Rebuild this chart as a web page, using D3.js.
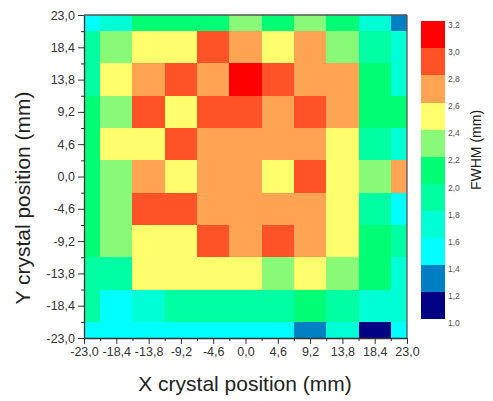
<!DOCTYPE html>
<html><head><meta charset="utf-8">
<script src="https://cdn.jsdelivr.net/npm/d3@7"></script>
<style>body{margin:0;background:#fff}svg{display:block;font-family:"Liberation Sans",Arial,sans-serif}</style>
</head><body><svg id="c" width="493" height="401"></svg>
<script>
// ---- data ----
const xPositions = [-23.0,-18.4,-13.8,-9.2,-4.6,0.0,4.6,9.2,13.8,18.4,23.0];
const yPositions = [23.0,18.4,13.8,9.2,4.6,0.0,-4.6,-9.2,-13.8,-18.4,-23.0];
const tickValues = [-23.0,-18.4,-13.8,-9.2,-4.6,0.0,4.6,9.2,13.8,18.4,23.0];
// FWHM (mm), one array per row, top (y=23) to bottom (y=-23), columns x=-23..23
const row_p230 = [1.5,1.7,2.1,2.1,2.1,2.3,2.1,2.3,2.1,1.7,1.3];
const row_p184 = [1.9,2.3,2.5,2.5,2.9,2.7,2.5,2.7,2.3,1.9,1.7];
const row_p138 = [1.9,2.5,2.7,2.9,2.7,3.1,2.9,2.7,2.7,2.1,1.7];
const row_p92  = [2.1,2.3,2.9,2.5,2.9,2.9,2.7,2.9,2.7,2.1,2.1];
const row_p46  = [2.1,2.5,2.5,2.9,2.7,2.7,2.7,2.7,2.5,1.9,1.7];
const row_0    = [2.1,2.3,2.7,2.5,2.7,2.7,2.5,2.9,2.5,2.3,2.7];
const row_m46  = [2.1,2.3,2.9,2.9,2.7,2.7,2.7,2.7,2.5,1.9,1.5];
const row_m92  = [2.1,2.3,2.5,2.5,2.9,2.7,2.9,2.7,2.5,2.1,1.9];
const row_m138 = [1.9,1.9,2.5,2.5,2.5,2.5,2.3,2.5,2.3,2.1,1.7];
const row_m184 = [1.9,1.5,1.7,1.9,1.9,1.9,1.9,2.1,1.9,1.7,1.7];
const row_m230 = [1.5,1.5,1.5,1.5,1.5,1.5,1.5,1.3,1.7,1.1,1.5];
const rows = [row_p230,row_p184,row_p138,row_p92,row_p46,row_0,row_m46,row_m92,row_m138,row_m184,row_m230];
const levels = [1.0,1.2,1.4,1.6,1.8,2.0,2.2,2.4,2.6,2.8,3.0,3.2];
const levelColors = ["#000082","#0080c4","#00ffff","#00ffd4","#00ffa2","#00ff74","#88fa78","#ffff6e","#ffa452","#ff5226","#ff0000"];

// ---- chart ----
const svg = d3.select("#c");
const L = 84, R = 407, T = 15, B = 338;
const x = d3.scaleLinear().domain([-23,23]).range([L,R]);
const y = d3.scaleLinear().domain([-23,23]).range([B,T]);
const color = d3.scaleThreshold().domain(levels.slice(1,-1)).range(levelColors);
const fmt = v => d3.format(".1f")(v).replace(".",",").replace("\u2212","-").replace("-0,0","0,0");
const half = 2.3;

svg.append("clipPath").attr("id","clip").append("rect")
  .attr("x",L).attr("y",T).attr("width",R-L).attr("height",B-T);

const cells = [];
rows.forEach((r,i)=>r.forEach((v,j)=>cells.push({x:xPositions[j],y:yPositions[i],v})));
svg.append("g").attr("clip-path","url(#clip)").selectAll("rect").data(cells).join("rect")
  .attr("x",d=>x(d.x-half)).attr("y",d=>y(d.y+half))
  .attr("width",d=>x(d.x+half)-x(d.x-half)+0.5)
  .attr("height",d=>y(d.y-half)-y(d.y+half)+0.5)
  .attr("fill",d=>color(d.v)).attr("shape-rendering","crispEdges");

const minor = tickValues.slice(0,-1).map(v=>v+2.3);
const axisColor = "#333";
function styleAxis(g){
  g.select(".domain").attr("stroke",axisColor).attr("stroke-width",1.3);
  g.selectAll(".tick line").attr("stroke",axisColor).attr("stroke-width",1);
  g.selectAll(".tick text").attr("fill","#333").style("font-size","12.5px");
}
// x axis
const gx = svg.append("g").attr("transform",`translate(0,${B})`)
  .call(d3.axisBottom(x).tickValues(tickValues).tickFormat(fmt).tickSize(6).tickSizeOuter(0).tickPadding(3));
styleAxis(gx);
svg.append("g").attr("transform",`translate(0,${B})`)
  .call(d3.axisBottom(x).tickValues(minor).tickFormat("").tickSize(3).tickSizeOuter(0))
  .call(g=>{g.select(".domain").remove();g.selectAll("line").attr("stroke",axisColor);});
// y axis
const gy = svg.append("g").attr("transform",`translate(${L},0)`)
  .call(d3.axisLeft(y).tickValues(tickValues).tickFormat(fmt).tickSize(6).tickSizeOuter(0).tickPadding(3));
styleAxis(gy);
svg.append("g").attr("transform",`translate(${L},0)`)
  .call(d3.axisLeft(y).tickValues(minor).tickFormat("").tickSize(3).tickSizeOuter(0))
  .call(g=>{g.select(".domain").remove();g.selectAll("line").attr("stroke",axisColor);});
// frame top/right
svg.append("line").attr("x1",L).attr("x2",R).attr("y1",T).attr("y2",T).attr("stroke","#555").attr("stroke-width",1.3);
svg.append("line").attr("x1",R).attr("x2",R).attr("y1",T).attr("y2",B).attr("stroke","#555").attr("stroke-width",1.3);

// titles
svg.append("text").attr("x",245).attr("y",391).attr("text-anchor","middle")
  .style("font-size","21px").attr("fill","#222").text("X crystal position (mm)");
svg.append("text").attr("transform",`translate(30,198) rotate(-90)`).attr("text-anchor","middle")
  .style("font-size","21px").attr("fill","#222").text("Y crystal position (mm)");

// legend
const ly = d3.scaleLinear().domain([1.0,3.2]).range([319,21]);
const lg = svg.append("g");
lg.selectAll("rect").data(levelColors).join("rect")
  .attr("x",421).attr("width",24)
  .attr("y",(c,i)=>ly(levels[i+1])).attr("height",(c,i)=>ly(levels[i])-ly(levels[i+1])+0.3)
  .attr("fill",c=>c).attr("shape-rendering","crispEdges");
lg.selectAll("text").data(levels).join("text")
  .attr("x",448).attr("y",v=>ly(v)+7).style("font-size","8.5px").attr("fill","#555")
  .text(v=>d3.format(".1f")(v).replace(".",","));
svg.append("text").attr("transform",`translate(481,150) rotate(-90)`).attr("text-anchor","middle")
  .style("font-size","14px").attr("fill","#222").text("FWHM (mm)");
</script></body></html>
